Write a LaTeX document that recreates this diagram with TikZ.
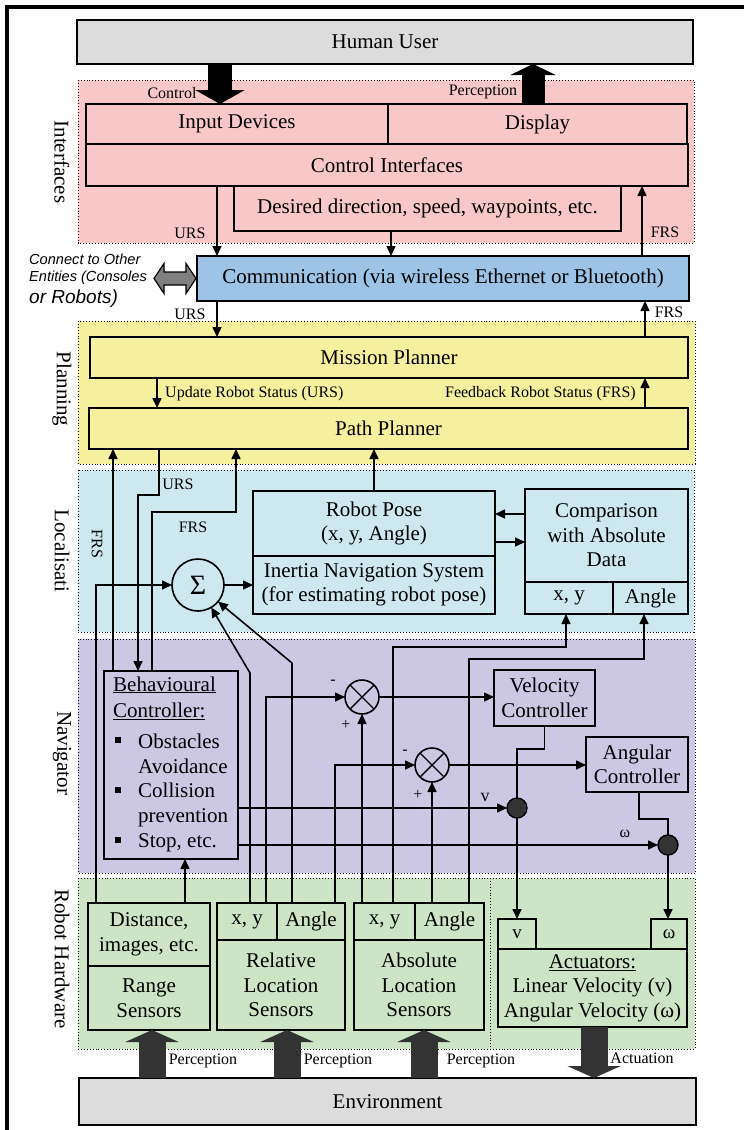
\documentclass[tikz,border=0pt]{standalone}
\usepackage{fontspec}
\setmainfont{Liberation Serif}
\newfontfamily\sansfam{Liberation Sans}
\usetikzlibrary{arrows.meta}
\definecolor{pinkc}{HTML}{F8C8C8}
\definecolor{bluec}{HTML}{9DC3E6}
\definecolor{yelc}{HTML}{F4F09E}
\definecolor{locc}{HTML}{CDE9EF}
\definecolor{navc}{HTML}{CCC8E4}
\definecolor{hwc}{HTML}{CDE5C4}
\definecolor{grayc}{HTML}{DCDCDC}
\definecolor{darkc}{HTML}{333333}
\definecolor{midgray}{HTML}{808080}
\newcommand\bigf{\fontsize{21}{24.5}\selectfont}
\newcommand\smf{\fontsize{16}{18}\selectfont}
\begin{document}
\begin{tikzpicture}[x=1pt,y=-1pt,
  region/.style={draw, dotted, line width=0.9pt},
  box/.style={draw, line width=1.8pt, inner sep=0pt, outer sep=0pt, align=center, font=\bigf, anchor=north west},
  conn/.style={line width=1.6pt, -{Triangle[length=10pt,width=9pt]}},
  plain/.style={line width=1.6pt},
  lbl/.style={font=\smf, inner sep=0pt},
  side/.style={font=\bigf, rotate=-90, inner sep=0pt},
  btxt/.style={font=\bigf, inner sep=0pt, anchor=base west},
  bul/.style={fill=black, minimum size=6pt, inner sep=0pt},
  bigar/.style={line width=27pt, draw=darkc, -{Triangle[length=12pt,width=53pt]}},
  mult/.style={circle, draw, line width=1.6pt, minimum size=34pt, inner sep=0pt, outer sep=0pt, fill=navc},
  dot/.style={circle, draw, line width=1.4pt, fill=darkc, minimum size=20pt, inner sep=0pt, outer sep=0pt}
]
\useasboundingbox (0,0) rectangle (744,1130);
\clip (0,0) rectangle (744,1130);
\fill[white] (0,0) rectangle (744,1130);
\draw[line width=4pt] (7,1140) -- (7,7) -- (760,7);

% regions
\draw[region, fill=pinkc] (78,80) rectangle (694,243);
\draw[region, fill=yelc] (78,321) rectangle (695,464);
\draw[region, fill=locc] (78,470) rectangle (694,632);
\draw[region, fill=navc] (78,639) rectangle (695,873);
\draw[region, fill=hwc] (78,878) rectangle (695,1049);
\draw[region] (490,878) -- (490,1049);

% side labels
\node[side] (sIf) at (62,162) {Interfaces};
\node[side] (sPl) at (62,389) {Planning};
\node[side] (sLo) at (62,551) {Localisati};
\node[side] (sNa) at (62,753) {Navigator};
\node[side] (sHw) at (62,959) {Robot Hardware};

% boxes
\node[box, fill=grayc, minimum width=616pt, minimum height=44pt] (hu) at (77,20) {Human User};
\node[box, fill=pinkc, minimum width=302pt, minimum height=40pt] (idev) at (86,104) {Input Devices};
\node[box, fill=pinkc, minimum width=299pt, minimum height=40pt] (disp) at (388,104) {Display};
\node[box, fill=pinkc, minimum width=602pt, minimum height=42pt] (ci) at (86,144) {Control Interfaces};
\node[box, fill=pinkc, minimum width=387pt, minimum height=45pt] (des) at (234,186) {Desired direction, speed, waypoints, etc.};
\node[box, fill=bluec, minimum width=492pt, minimum height=45pt] (comm) at (197,256) {Communication (via wireless Ethernet or Bluetooth)};
\node[box, fill=yelc, minimum width=598pt, minimum height=41pt] (mp) at (90,337) {Mission Planner};
\node[box, fill=yelc, minimum width=599pt, minimum height=41pt] (pp) at (89,408) {Path Planner};
\node[box, fill=locc, minimum width=242pt, minimum height=65pt] (rp) at (253,491) {Robot Pose\\(x, y, Angle)};
\node[box, fill=locc, minimum width=242pt, minimum height=58pt] (ins) at (253,556) {Inertia Navigation System\\(for estimating robot pose)};
\node[box, fill=locc, minimum width=163pt, minimum height=93pt] (cmp) at (525,489) {Comparison\\with Absolute\\Data};
\node[box, fill=locc, minimum width=88pt, minimum height=32pt] (cxy) at (525,582) {x, y};
\node[box, fill=locc, minimum width=75pt, minimum height=32pt] (cang) at (613,582) {Angle};
\node[circle, draw, line width=1.6pt, minimum size=52pt, inner sep=0pt, outer sep=0pt, font=\fontsize{28}{28}\selectfont] (sig) at (198,585) {Σ};
\node[box, fill=navc, minimum width=134pt, minimum height=188pt] (bc) at (104,671) {};
\node[box, fill=navc, minimum width=101pt, minimum height=56pt] (vc) at (494,670) {Velocity\\Controller};
\node[box, fill=navc, minimum width=102pt, minimum height=55pt] (ac) at (586,737) {Angular\\Controller};
\node[mult] (m1) at (362,697) {};
\node[mult] (m2) at (432,765) {};
\draw[line width=1.4pt] (m1.45) -- (m1.225) (m1.135) -- (m1.315);
\draw[line width=1.4pt] (m2.45) -- (m2.225) (m2.135) -- (m2.315);
\node[dot] (dv) at (517,808) {};
\node[dot] (dw) at (668,845) {};
\node[box, fill=hwc, minimum width=122pt, minimum height=63pt] (rsd) at (88,903) {Distance,\\images, etc.};
\node[box, fill=hwc, minimum width=122pt, minimum height=64pt] (rsr) at (88,966) {Range\\Sensors};
\node[box, fill=hwc, minimum width=60pt, minimum height=37pt] (rlx) at (217,903) {x, y};
\node[box, fill=hwc, minimum width=68pt, minimum height=37pt] (rla) at (277,903) {Angle};
\node[box, fill=hwc, minimum width=128pt, minimum height=90pt] (rlb) at (217,940) {Relative\\Location\\Sensors};
\node[box, fill=hwc, minimum width=61pt, minimum height=37pt] (alx) at (354,903) {x, y};
\node[box, fill=hwc, minimum width=69pt, minimum height=37pt] (ala) at (415,903) {Angle};
\node[box, fill=hwc, minimum width=130pt, minimum height=90pt] (alb) at (354,940) {Absolute\\Location\\Sensors};
\node[box, fill=hwc, minimum width=38pt, minimum height=30pt, font=\fontsize{19}{20}\selectfont] (acv) at (498,919) {v};
\node[box, fill=hwc, minimum width=36pt, minimum height=30pt, font=\fontsize{19}{20}\selectfont] (acw) at (651,919) {ω};
\node[box, fill=hwc, minimum width=189pt, minimum height=78pt] (acb) at (498,949) {\underline{Actuators:}\\Linear Velocity (v)\\Angular Velocity (ω)};
\node[box, fill=grayc, minimum width=617pt, minimum height=47pt] (env) at (79,1078) {Environment};

% behavioural controller text
\node[btxt] (bt1) at (113,691) {\underline{Behavioural}};
\node[btxt] (bt2) at (113,717) {\underline{Controller:}};
\node[bul] (bl1) at (118,740) {};
\node[btxt] (bt3) at (138,748) {Obstacles};
\node[btxt] (bt4) at (138,773) {Avoidance};
\node[bul] (bl2) at (118,790) {};
\node[btxt] (bt5) at (138,797) {Collision};
\node[btxt] (bt6) at (138,822) {prevention};
\node[bul] (bl3) at (118,840) {};
\node[btxt] (bt7) at (138,847) {Stop, etc.};

% connect to other entities
\node[font=\sansfam\itshape\fontsize{14.6}{16}\selectfont, anchor=west, inner sep=0pt] (ct1) at (29,259) {Connect to Other};
\node[font=\sansfam\itshape\fontsize{14.6}{16}\selectfont, anchor=west, inner sep=0pt] (ct2) at (29,278) {Entities (Consoles};
\node[font=\sansfam\itshape\fontsize{19}{20}\selectfont, anchor=west, inner sep=0pt] (ct3) at (29,299) {or Robots)};
\draw[line width=1.2pt, fill=midgray, line join=miter] ([xshift=-1pt]comm.west) -- ++(-10,-15) -- ++(0,8.5) -- ++(-22,0) -- ++(0,-8.5) -- ++(-10,15) -- ++(10,15) -- ++(0,-8.5) -- ++(22,0) -- ++(0,8.5) -- cycle;

% top big arrows
\draw[line width=24pt, -{Triangle[length=14pt,width=49pt]}] (hu.south -| 220,0) -- (idev.north -| 220,0);
\draw[line width=23pt, -{Triangle[length=11pt,width=45pt]}] (disp.north -| 533,0) -- (hu.south -| 533,0);
\node[lbl] (lctl) at (172,93) {Control};
\node[lbl] (lper) at (483,92) {Perception};

% interface / communication / planning connectors
\draw[conn] (ci.south -| 217,0) -- (comm.north -| 217,0);
\node[lbl] (lu1) at (190,233) {URS};
\draw[conn] (des.south -| 391,0) -- (comm.north -| 391,0);
\draw[conn] (comm.north -| 642,0) -- (ci.south -| 642,0);
\node[lbl] (lf1) at (665,232) {FRS};
\draw[conn] (comm.south -| 217,0) -- (mp.north -| 217,0);
\node[lbl] (lu2) at (190,314) {URS};
\draw[conn] (mp.north -| 645,0) -- (comm.south -| 645,0);
\node[lbl] (lf2) at (669,312) {FRS};
\draw[conn] (mp.south -| 157,0) -- (pp.north -| 157,0);
\node[lbl, anchor=west] (lurs) at (165,394) {Update Robot Status (URS)};
\draw[conn] (pp.north -| 645,0) -- (mp.south -| 645,0);
\node[lbl, anchor=east] (lfrs) at (636,394) {Feedback Robot Status (FRS)};

% localisation connectors
\draw[conn] (bc.north -| 113,0) -- (pp.south -| 113,0);
\node[lbl, rotate=-90] (lf3) at (97,544) {FRS};
\draw[conn] (pp.south -| 159,0) -- ++(0,46) -| (bc.north -| 138,0);
\node[lbl] (lu3) at (178,484) {URS};
\draw[conn] (bc.north -| 152,0) -- ++(0,-159) -| (pp.south -| 236,0);
\node[lbl] (lf4) at (193,527) {FRS};
\draw[conn] (rp.north) -- (pp.south -| rp.north);
\draw[conn] (sig.east) -- (ins.west);
\draw[conn] (cmp.west |- 0,514) -- (rp.east |- 0,514);
\draw[conn] (rp.east |- 0,542) -- (cmp.west |- 0,542);

% sensors to processing
\draw[conn] (rsd.north -| 96,0) |- (sig.west);
\draw[conn] (rsd.north -| 185,0) -- (bc.south -| 185,0);
\draw[conn] (rlx.north -| 250,0) -- ++(0,-230) -- (sig);
\draw[conn] (rla.north -| 292,0) -- ++(0,-240) -- (sig);
\draw[conn] (rlx.north -| 266,0) |- (m1.west);
\draw[conn] (rla.north -| 335,0) |- (m2.west);
\draw[conn] (alx.north -| 362,0) -- (m1.south);
\draw[conn] (alx.north -| 393,0) -- ++(0,-256) -| (cxy.south -| 566,0);
\draw[conn] (ala.north -| 432,0) -- (m2.south);
\draw[conn] (ala.north -| 469,0) -- ++(0,-244) -| (cang.south -| 644,0);
\node[lbl] (mn1) at (333,682) {-};
\node[lbl] (pl1) at (346,725) {+};
\node[lbl] (mn2) at (405,752) {-};
\node[lbl] (pl2) at (418,795) {+};

% navigator connectors
\draw[conn] (m1.east) -- (vc.west |- m1.east);
\draw[conn] (m2.east) -- (ac.west |- m2.east);
\draw[plain] (vc.south) -- ++(0,23) -| (dv.north);
\draw[conn] (dv.south) -- (acv.north -| dv.south);
\draw[plain] (ac.south -| 639,0) -- ++(0,27) -| (dw.north);
\draw[conn] (dw.south) -- (acw.north -| dw.south);
\draw[conn] (bc.east |- dv.west) -- (dv.west);
\node[lbl, font=\fontsize{18}{20}\selectfont] (lv) at (485,797) {v};
\draw[conn] (bc.east |- dw.west) -- (dw.west);
\node[lbl] (lw) at (625,834) {ω};

% bottom big arrows
\draw[bigar] (env.north -| 152,0) -- (rsr.south -| 152,0);
\draw[bigar] (env.north -| 287,0) -- (rlb.south -| 287,0);
\draw[bigar] (env.north -| 424,0) -- (alb.south -| 424,0);
\draw[bigar] (acb.south -| 594,0) -- (env.north -| 594,0);
\node[lbl] (lp1) at (203,1061) {Perception};
\node[lbl] (lp2) at (338,1061) {Perception};
\node[lbl] (lp3) at (481,1061) {Perception};
\node[lbl] (lact) at (642,1058) {Actuation};
\end{tikzpicture}
\end{document}
